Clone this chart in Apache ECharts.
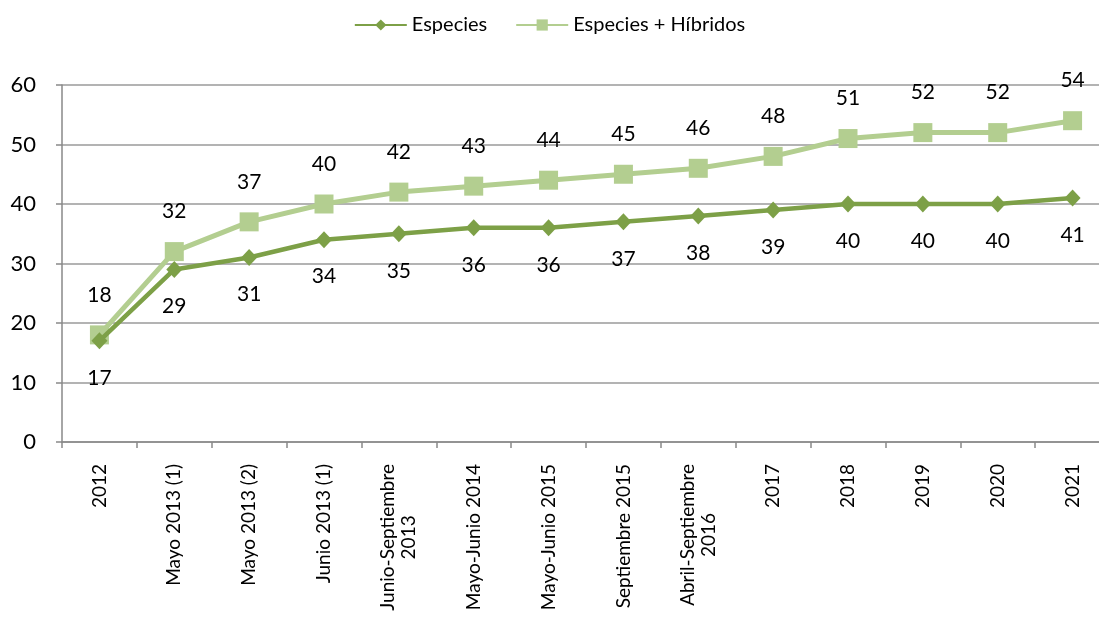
<!DOCTYPE html>
<html>
<head>
<meta charset="utf-8">
<script src="https://cdn.jsdelivr.net/npm/echarts@6/dist/echarts.min.js"></script>
<style>
  html, body { margin: 0; padding: 0; background: #fff; overflow: hidden; }
  #chart { width: 1099px; height: 617px; }
</style>
</head>
<body>
<div id="chart"></div>
<script>
// Survey periods (x axis)
const categories = [
  '2012', 'Mayo 2013 (1)', 'Mayo 2013 (2)', 'Junio 2013 (1)',
  'Junio-Septiembre\n2013', 'Mayo-Junio 2014', 'Mayo-Junio 2015',
  'Septiembre 2015', 'Abril-Septiembre\n2016', '2017', '2018', '2019', '2020', '2021'
];
// Species counts
const especies = [17, 29, 31, 34, 35, 36, 36, 37, 38, 39, 40, 40, 40, 41];
// Species plus hybrids
const especiesHibridos = [18, 32, 37, 40, 42, 43, 44, 45, 46, 48, 51, 52, 52, 54];
const yTicks = { min: 0, max: 60, interval: 10 };

const darkGreen = '#7DA047';
const lightGreen = '#B3CE90';
const font = 'Lato, "Open Sans", sans-serif';

const chart = echarts.init(document.getElementById('chart'), null, { renderer: 'canvas' });
chart.setOption({
  animation: false,
  textStyle: { fontFamily: font },
  legend: {
    top: 10,
    left: 'center',
    itemGap: 28,
    itemWidth: 52,
    itemHeight: 14,
    textStyle: { fontSize: 20, color: '#000', fontFamily: font },
    data: ['Especies', 'Especies + Híbridos']
  },
  // the last category column runs past the right edge of the page
  grid: {
    left: 62, right: -11, top: 85, bottom: 175,
    containLabel: false,
    outerBoundsMode: 'none'
  },
  xAxis: {
    type: 'category',
    data: categories,
    boundaryGap: true,
    axisLine: { lineStyle: { color: '#898989', width: 1.5 } },
    axisTick: { show: true, alignWithLabel: false, length: 6, lineStyle: { color: '#898989', width: 1.5 } },
    axisLabel: {
      rotate: 90,
      interval: 0,
      margin: 22,
      align: 'right',
      verticalAlign: 'middle',
      // each line centred within its label block
      formatter: (v) => v.split('\n').map((s) => '{c|' + s + '}').join('\n'),
      rich: {
        c: { align: 'center', fontSize: 19, lineHeight: 21, color: '#000', fontFamily: font }
      }
    }
  },
  yAxis: {
    type: 'value',
    min: yTicks.min,
    max: yTicks.max,
    interval: yTicks.interval,
    axisLine: { show: true, lineStyle: { color: '#898989', width: 1.5 } },
    axisTick: { show: true, length: 6, lineStyle: { color: '#898989', width: 1.5 } },
    splitLine: { lineStyle: { color: '#9a9a9a', width: 1.5 } },
    axisLabel: { fontSize: 22, color: '#000', margin: 26, fontFamily: font }
  },
  series: [
    {
      name: 'Especies + Híbridos',
      type: 'line',
      data: especiesHibridos,
      symbol: 'rect',
      symbolSize: 19,
      itemStyle: { color: lightGreen },
      lineStyle: { color: lightGreen, width: 5 },
      label: {
        show: true,
        position: 'top',
        distance: 20,
        fontSize: 21,
        color: '#000',
        fontFamily: font
      },
      z: 2
    },
    {
      name: 'Especies',
      type: 'line',
      data: especies,
      symbol: 'diamond',
      symbolSize: [16, 17],
      itemStyle: { color: darkGreen },
      lineStyle: { color: darkGreen, width: 4.5 },
      label: {
        show: true,
        position: 'bottom',
        distance: 18,
        fontSize: 21,
        color: '#000',
        fontFamily: font
      },
      z: 3
    }
  ]
});
</script>
</body>
</html>
